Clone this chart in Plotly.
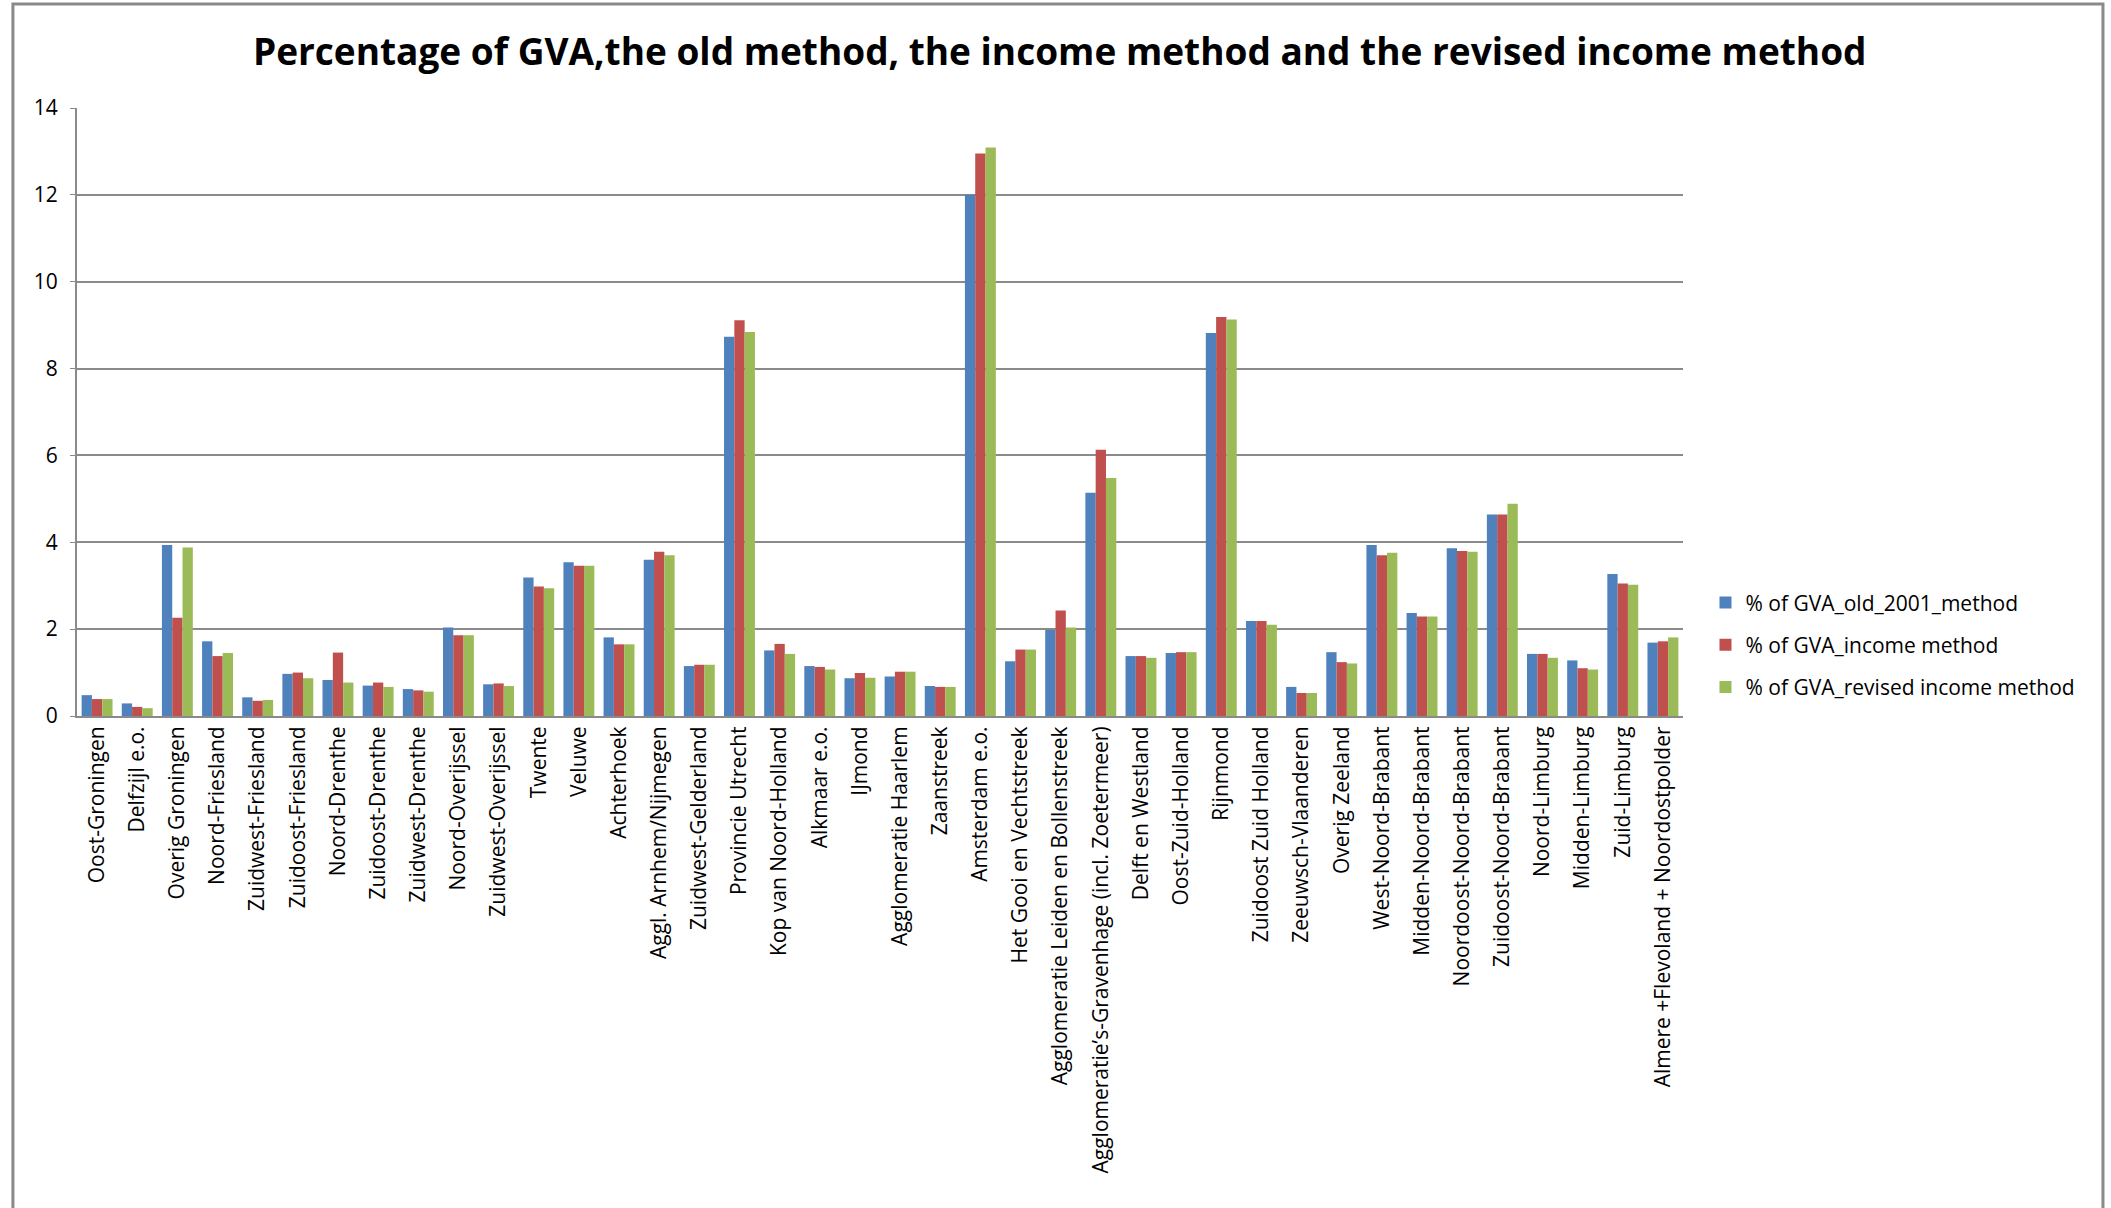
import plotly.graph_objects as go

categories = [
    "Oost-Groningen", "Delfzijl e.o.", "Overig Groningen", "Noord-Friesland",
    "Zuidwest-Friesland", "Zuidoost-Friesland", "Noord-Drenthe", "Zuidoost-Drenthe",
    "Zuidwest-Drenthe", "Noord-Overijssel", "Zuidwest-Overijssel", "Twente",
    "Veluwe", "Achterhoek", "Aggl. Arnhem/Nijmegen", "Zuidwest-Gelderland",
    "Provincie Utrecht", "Kop van Noord-Holland", "Alkmaar e.o.", "IJmond",
    "Agglomeratie Haarlem", "Zaanstreek", "Amsterdam e.o.", "Het Gooi en Vechtstreek",
    "Agglomeratie Leiden en Bollenstreek", "Agglomeratie’s-Gravenhage (incl. Zoetermeer)",
    "Delft en Westland", "Oost-Zuid-Holland", "Rijnmond", "Zuidoost Zuid Holland",
    "Zeeuwsch-Vlaanderen", "Overig Zeeland", "West-Noord-Brabant", "Midden-Noord-Brabant",
    "Noordoost-Noord-Brabant", "Zuidoost-Noord-Brabant", "Noord-Limburg", "Midden-Limburg",
    "Zuid-Limburg", "Almere +Flevoland + Noordostpolder",
]

old_2001_method = [
    0.48, 0.29, 3.94, 1.72, 0.43, 0.97, 0.83, 0.70, 0.62, 2.04, 0.73, 3.19,
    3.54, 1.81, 3.60, 1.15, 8.73, 1.51, 1.15, 0.87, 0.91, 0.69, 12.00, 1.26,
    1.98, 5.14, 1.38, 1.45, 8.82, 2.19, 0.67, 1.47, 3.94, 2.37, 3.86, 4.64,
    1.43, 1.28, 3.27, 1.69,
]
income_method = [
    0.39, 0.21, 2.26, 1.38, 0.35, 1.00, 1.46, 0.77, 0.59, 1.86, 0.75, 2.98,
    3.46, 1.65, 3.78, 1.18, 9.11, 1.66, 1.13, 0.99, 1.02, 0.67, 12.95, 1.53,
    2.43, 6.13, 1.38, 1.47, 9.19, 2.19, 0.53, 1.24, 3.70, 2.29, 3.80, 4.64,
    1.43, 1.10, 3.05, 1.72,
]
revised_income_method = [
    0.39, 0.18, 3.88, 1.45, 0.37, 0.87, 0.77, 0.67, 0.56, 1.86, 0.69, 2.94,
    3.46, 1.65, 3.70, 1.18, 8.84, 1.43, 1.07, 0.88, 1.02, 0.67, 13.09, 1.53,
    2.04, 5.48, 1.34, 1.47, 9.13, 2.10, 0.53, 1.21, 3.76, 2.29, 3.78, 4.89,
    1.34, 1.07, 3.02, 1.81,
]

series_names = [
    "% of GVA_old_2001_method",
    "% of GVA_income method",
    "% of GVA_revised income method",
]
colors = ["#4F81BD", "#C0504D", "#9BBB59"]

FONT = "'Open Sans', Lato, sans-serif"

fig = go.Figure()
for i, (name, vals, col) in enumerate(zip(series_names,
                                          [old_2001_method, income_method, revised_income_method],
                                          colors)):
    fig.add_trace(go.Bar(
        x=categories, y=vals, name=name, legendgroup=f"g{i}",
        marker=dict(color=col, line=dict(width=0)),
    ))

fig.update_layout(
    width=2111, height=1208,
    paper_bgcolor="white", plot_bgcolor="white",
    margin=dict(l=77, r=428, t=108, b=492),
    barmode="group", bargap=0.23, bargroupgap=0,
    font=dict(family=FONT, color="black", size=20),
    title=dict(
        text="<b>Percentage of GVA,the old method, the income method and the revised income method</b>",
        x=0.502, xanchor="center", y=0.957, yanchor="middle",
        font=dict(family=FONT, size=37, color="black"),
    ),
    legend=dict(
        x=1.014, xanchor="left", y=0.117, yanchor="middle",
        font=dict(family=FONT, size=21, color="black"),
        bgcolor="rgba(0,0,0,0)", itemwidth=30, tracegroupgap=12,
        traceorder="grouped",
    ),
    showlegend=True,
)

fig.update_yaxes(
    range=[0, 14], dtick=2, tick0=0,
    showgrid=True, gridcolor="#8a8a8a", gridwidth=2,
    showline=True, linecolor="#8a8a8a", linewidth=2,
    ticks="outside", ticklen=5, tickcolor="#8a8a8a",
    tickfont=dict(family=FONT, size=21, color="black"),
    ticklabelstandoff=8,
    zeroline=False,
)
fig.update_xaxes(
    showline=True, linecolor="#8a8a8a", linewidth=2,
    tickangle=-90, tickfont=dict(family=FONT, size=21, color="black"),
    ticks="", showgrid=False,
)

# outer chart border
fig.add_shape(type="rect", xref="paper", yref="paper",
              x0=-0.0399, x1=1.2615, y0=-0.83, y1=1.171,
              line=dict(color="#8a8a8a", width=3), fillcolor="rgba(0,0,0,0)",
              layer="below")

fig.write_html("out.html")
